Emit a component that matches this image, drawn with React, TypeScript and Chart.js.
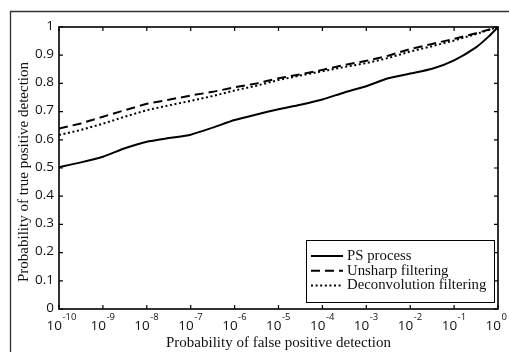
import React, { useEffect, useRef } from "react";
import { Chart, registerables } from "chart.js";

Chart.register(...registerables);

const fpr = [
  1e-10, 3.16e-10, 1e-9, 3.16e-9, 1e-8, 3.16e-8, 1e-7, 3.16e-7, 1e-6, 3.16e-6, 1e-5,
  3.16e-5, 1e-4, 3.16e-4, 1e-3, 3.16e-3, 1e-2, 3.16e-2, 1e-1, 3.16e-1, 1,
];
const psProcess = [
  0.503, 0.52, 0.54, 0.57, 0.593, 0.606, 0.618, 0.643, 0.67, 0.69, 0.708,
  0.724, 0.743, 0.768, 0.79, 0.818, 0.835, 0.852, 0.882, 0.928, 1.0,
];
const psExtraX = [0.6];
const psExtraY = [0.965];
const unsharp = [
  0.64, 0.658, 0.682, 0.705, 0.728, 0.742, 0.757, 0.77, 0.786, 0.8, 0.818,
  0.832, 0.848, 0.865, 0.88, 0.898, 0.922, 0.94, 0.958, 0.978, 1.0,
];
const deconv = [
  0.617, 0.635, 0.657, 0.682, 0.705, 0.722, 0.738, 0.755, 0.775, 0.792, 0.812,
  0.828, 0.843, 0.858, 0.872, 0.89, 0.913, 0.932, 0.952, 0.975, 1.0,
];
const seriesNames = ["PS process", "Unsharp filtering", "Deconvolution filtering"];
const xExponents = [-10, -9, -8, -7, -6, -5, -4, -3, -2, -1, 0];
const yTicks = [0, 0.1, 0.2, 0.3, 0.4, 0.5, 0.6, 0.7, 0.8, 0.9, 1];
const yTickLabels = ["0", "0.1", "0.2", "0.3", "0.4", "0.5", "0.6", "0.7", "0.8", "0.9", "1"];
const xTitle = "Probability of false positive detection";
const yTitle = "Probability of true positive detection";

const TICK_FONT = '13.5px "Liberation Sans Narrow", "Open Sans", sans-serif';
const SUP_FONT = '9.5px "Liberation Sans Narrow", "Open Sans", sans-serif';
const SERIF = '15px "Liberation Serif", "DejaVu Serif", serif';
const LEGEND_FONT = '14.8px "Liberation Serif", "DejaVu Serif", serif';

function buildPs() {
  const pts: { x: number; y: number }[] = [];
  for (let i = 0; i < fpr.length; i++) {
    pts.push({ x: fpr[i], y: psProcess[i] });
    if (i === fpr.length - 2) {
      for (let j = 0; j < psExtraX.length; j++) pts.push({ x: psExtraX[j], y: psExtraY[j] });
    }
  }
  return pts;
}

const decorPlugin = {
  id: "decor",
  afterDraw(chart: any) {
    const ctx = chart.ctx as CanvasRenderingContext2D;
    const { left, right, top, bottom } = chart.chartArea;
    const xs = chart.scales.x;
    const ys = chart.scales.y;
    ctx.save();
    // outer figure frame
    ctx.strokeStyle = "#333";
    ctx.lineWidth = 1.3;
    ctx.beginPath();
    ctx.moveTo(10.5, 352);
    ctx.lineTo(10.5, 11.5);
    ctx.lineTo(509, 11.5);
    ctx.stroke();

    // plot box
    ctx.strokeStyle = "#000";
    ctx.lineWidth = 1.6;
    ctx.strokeRect(left, top, right - left, bottom - top);

    // ticks
    ctx.lineWidth = 1.2;
    const tl = 4;
    ctx.beginPath();
    xExponents.forEach((e) => {
      const px = xs.getPixelForValue(Math.pow(10, e));
      ctx.moveTo(px, bottom);
      ctx.lineTo(px, bottom - tl);
      ctx.moveTo(px, top);
      ctx.lineTo(px, top + tl);
    });
    yTicks.forEach((v) => {
      const py = ys.getPixelForValue(v);
      ctx.moveTo(left, py);
      ctx.lineTo(left + tl, py);
      ctx.moveTo(right, py);
      ctx.lineTo(right - tl, py);
    });
    ctx.stroke();

    // y tick labels
    ctx.fillStyle = "#111";
    ctx.font = TICK_FONT;
    ctx.textAlign = "right";
    ctx.textBaseline = "middle";
    yTicks.forEach((v, i) => {
      ctx.fillText(yTickLabels[i], left - 5, ys.getPixelForValue(v) - 1);
    });

    // x tick labels 10^e
    xExponents.forEach((e) => {
      const px = xs.getPixelForValue(Math.pow(10, e));
      ctx.font = TICK_FONT;
      ctx.textAlign = "right";
      ctx.textBaseline = "alphabetic";
      ctx.fillText("10", px + 3, bottom + 21);
      ctx.font = SUP_FONT;
      ctx.textAlign = "left";
      ctx.fillText(e === 0 ? "0" : "-" + Math.abs(e), px + 3.5, bottom + 11);
    });

    // axis titles
    ctx.font = SERIF;
    ctx.textAlign = "center";
    ctx.textBaseline = "alphabetic";
    ctx.fillText(xTitle, (left + right) / 2, 347);
    ctx.save();
    ctx.translate(28, 172);
    ctx.rotate(-Math.PI / 2);
    ctx.fillText(yTitle, 0, 0);
    ctx.restore();

    // legend
    const lx = 306, ly = 240, lw = 188, lh = 62;
    ctx.fillStyle = "#fff";
    ctx.fillRect(lx, ly, lw, lh);
    ctx.strokeStyle = "#000";
    ctx.lineWidth = 1;
    ctx.strokeRect(lx + 0.5, ly + 0.5, lw, lh);
    chart.data.datasets.forEach((ds: any, i: number) => {
      const cy = ly + 16 + i * 14.7;
      ctx.strokeStyle = ds.borderColor;
      ctx.lineWidth = ds.borderWidth;
      ctx.setLineDash(ds.borderDash || []);
      ctx.beginPath();
      ctx.moveTo(lx + 5, cy);
      ctx.lineTo(lx + 37, cy);
      ctx.stroke();
      ctx.setLineDash([]);
      ctx.fillStyle = "#111";
      ctx.font = LEGEND_FONT;
      ctx.textAlign = "left";
      ctx.textBaseline = "middle";
      ctx.fillText(ds.label, lx + 41, cy);
    });
    ctx.restore();
  },
};

export default function App() {
  const ref = useRef<HTMLCanvasElement | null>(null);
  useEffect(() => {
    document.body.style.margin = "0";
    const canvas = ref.current!;
    const chart = new Chart(canvas, {
      type: "line",
      data: {
        datasets: [
          {
            label: seriesNames[0],
            data: buildPs(),
            borderColor: "#000",
            borderWidth: 2,
            pointRadius: 0,
            fill: false,
            tension: 0.2,
          },
          {
            label: seriesNames[1],
            data: fpr.map((x, i) => ({ x, y: unsharp[i] })),
            borderColor: "#000",
            borderWidth: 2,
            borderDash: [9, 5],
            pointRadius: 0,
            fill: false,
          },
          {
            label: seriesNames[2],
            data: fpr.map((x, i) => ({ x, y: deconv[i] })),
            borderColor: "#000",
            borderWidth: 2,
            borderDash: [2, 2.6],
            pointRadius: 0,
            fill: false,
          },
        ],
      },
      options: {
        responsive: false,
        animation: false,
        parsing: true,
        layout: { padding: { left: 59, top: 27, right: 11, bottom: 43 } },
        plugins: { legend: { display: false }, tooltip: { enabled: false } },
        scales: {
          x: {
            type: "logarithmic",
            min: 1e-10,
            max: 1,
            grid: { display: false },
            border: { display: false },
            ticks: { display: false },
            afterFit: (s: any) => {
              s.height = 0;
            },
          },
          y: {
            type: "linear",
            min: 0,
            max: 1,
            grid: { display: false },
            border: { display: false },
            ticks: { display: false },
            afterFit: (s: any) => {
              s.width = 0;
            },
          },
        },
      },
      plugins: [decorPlugin],
    });
    return () => chart.destroy();
  }, []);
  return (
    <div style={{ position: "absolute", left: 0, top: 0, width: 509, height: 352, background: "#fff" }}>
      <canvas ref={ref} width={509} height={352} style={{ display: "block" }} />
    </div>
  );
}
